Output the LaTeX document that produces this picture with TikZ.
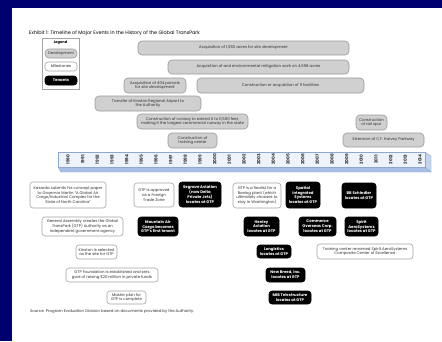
\documentclass[tikz,border=0pt]{standalone}
\usepackage{fontspec}
\setmainfont{Poppins}
\definecolor{navyb}{HTML}{000070}
\definecolor{devfill}{HTML}{D0D0D0}
\definecolor{devline}{HTML}{9A9A9A}
\definecolor{milline}{HTML}{A4A4A4}
\definecolor{conncol}{HTML}{A0A0A0}
\definecolor{barfront}{HTML}{EEF2FA}
\definecolor{barline}{HTML}{8FA7D0}
\definecolor{barbot}{HTML}{A8BEE6}
\definecolor{barside}{HTML}{C4D4EE}
\definecolor{txtgray}{HTML}{303030}
\newcommand\ftxt{\fontsize{3.85}{4.9}\selectfont}
\pgfdeclarelayer{bg}
\pgfsetlayers{bg,main}
\tikzset{
  sz/.style 2 args={minimum width=#1pt, minimum height=#2pt},
  devbox/.style={draw=devline, fill=devfill, rounded corners=4pt, line width=0.6pt,
    align=center, font=\ftxt, text=txtgray, inner sep=0.5pt},
  milbox/.style={draw=milline, fill=white, rounded corners=3pt, line width=0.6pt,
    align=center, font=\ftxt, text=txtgray, inner sep=0.5pt},
  tenbox/.style={draw=black, fill=black, rounded corners=3pt, line width=0.6pt,
    align=center, font=\ftxt\bfseries, text=white, inner sep=0.5pt},
  yearlbl/.style={rotate=90, font=\fontsize{4.3}{5}\selectfont\bfseries, text=txtgray, inner sep=0pt},
  conn/.style={draw=conncol, line width=0.5pt},
}
\begin{document}
\begin{tikzpicture}[x=1pt,y=-1pt]
\useasboundingbox (0,0) rectangle (442,341);
\fill[navyb] (0,0) rectangle (442,341);
\fill[white] (12,8) rectangle (442,341);

% title
\node[anchor=west, font=\fontsize{4.9}{6}\selectfont, inner sep=0pt] (title) at (29,33)
  {Exhibit 1: Timeline of Major Events in the History of the Global TransPark};

% legend
\node[draw=milline, fill=white, line width=0.6pt, sz={37}{51}] (legend) at (60.5,63.5) {};
\node[font=\fontsize{3.6}{4}\selectfont\bfseries, inner sep=0pt] (legtitle) at (60.5,42.5) {Legend};
\node[devbox, sz={32}{9}] (legdev) at (61,53.5) {Development};
\node[milbox, sz={32}{9}] (legmil) at (61,66.5) {Milestones};
\node[tenbox, sz={32}{9}] (legten) at (61,80.5) {Tenants};

% development bars
\node[devbox, sz={211}{14}] (d1) at (243.5,48) {Acquisition of 1,063 acres for site development};
\node[devbox, sz={181}{14}] (d2) at (258.5,67) {Acquisition of and environmental mitigation work on 4,658 acres};
\node[devbox, sz={62}{15}] (d3) at (155,85.5) {Acquisition of 404 parcels\\for site development};
\node[devbox, sz={167}{15}] (d4) at (280.5,85.5) {Construction or acquisition of 11 facilities};
\node[devbox, sz={106}{15}] (d5) at (148,103.5) {Transfer of Kinston Regional Airport to\\the Authority};
\node[devbox, sz={111}{15}] (d6) at (192.5,121.5) {Construction of runway to extend it to 11,500 feet,\\making it the longest commercial runway in the state};
\node[devbox, sz={49}{15}] (d7) at (192.5,140.5) {Construction of\\training center};
\node[devbox, sz={31}{15}] (d8) at (371.5,122.5) {Construction\\of rail spur};
\node[devbox, sz={81}{14}] (d9) at (383.5,140) {Extension of C.F. Harvey Parkway};

% timeline bar
\filldraw[fill=barbot, draw=barline, line width=0.4pt] (58,167) -- (425,167) -- (431,172) -- (61,172) -- cycle;
\filldraw[fill=barside, draw=barline, line width=0.4pt] (425,152) -- (431,156) -- (431,172) -- (425,167) -- cycle;
\filldraw[fill=barfront, draw=barline, line width=0.5pt] (58,152) rectangle (425,167);
\foreach \i in {0,...,24} {
  \pgfmathtruncatemacro\yr{1990+\i}
  \node[yearlbl] (yr\yr) at ({68+14.667*\i},159.5) {\yr};
}

% milestones and tenants below
\node[milbox, sz={76}{26}] (kas) at (68,195) {Kasarda submits his concept paper\\to Governor Martin ``A Global Air\\Cargo/Industrial Complex for the\\State of North Carolina''};
\node[milbox, sz={81}{19}] (ga) at (82.5,226.5) {General Assembly creates the Global\\TransPark (GTP) Authority as an\\independent government agency};
\node[milbox, sz={41}{14}] (kin) at (96.5,252) {Kinston is selected\\as the site for GTP};
\node[milbox, sz={92}{14}] (fdn) at (112,275) {GTP Foundation is established and sets\\goal of raising \$20 million in private funds};
\node[milbox, sz={39}{13}] (mp) at (126.5,297.5) {Master plan for\\GTP is complete};
\node[milbox, sz={40}{24}] (ftz) at (154,195) {GTP is approved\\as a Foreign\\Trade Zone};
\node[tenbox, sz={42}{25}] (seg) at (200,194.5) {Segrave Aviation\\(now Delta\\Private Jets)\\locates at GTP};
\node[tenbox, sz={40}{19}] (mac) at (158,226.5) {Mountain Air\\Cargo becomes\\GTP's first tenant};
\node[milbox, sz={48}{25}] (boe) at (257,195.5) {GTP is a finalist for a\\Boeing plant (which\\ultimately chooses to\\stay in Washington)};
\node[tenbox, sz={34}{26}] (spa) at (303,195) {Spatial\\Integrated\\Systems\\locates at GTP};
\node[tenbox, sz={34}{25}] (bbs) at (359,195.5) {BB Schindler\\locates at GTP};
\node[tenbox, sz={35}{19}] (hen) at (261.5,226.5) {Henley\\Aviation\\locates at GTP};
\node[tenbox, sz={37}{19}] (com) at (317.5,226.5) {Commerce\\Overseas Corp.\\locates at GTP};
\node[tenbox, sz={33}{19}] (spi) at (361.5,226.5) {Spirit\\AeroSystems\\locates at GTP};
\node[milbox, sz={96}{15}] (trn) at (365,251.5) {Training center renamed Spirit AeroSystems\\Composite Center of Excellence};
\node[tenbox, sz={34}{13}] (lon) at (274,251.5) {Longistics\\locates at GTP};
\node[tenbox, sz={39}{14}] (nbr) at (285.5,275) {New Breed, Inc.\\locates at GTP};
\node[tenbox, sz={42}{13}] (mib) at (290,297.5) {MiB Telestructure\\locates at GTP};

% source
\node[anchor=west, font=\fontsize{3.9}{5}\selectfont, inner sep=0pt, text=txtgray] (src) at (30,312)
  {Source: Program Evaluation Division based on documents provided by the Authority.};

% connector start points at the bottom of the bar
\foreach \nm/\xx in {a90/68, a91/83, a92/97, a93/112, a94/127, a96a/154, a96b/158, a99/200,
  a03a/257, a03b/261, a04/274, a05a/286, a05b/289, a06/303, a07/317, a10a/358, a10b/361, a10c/364}
  {\coordinate (\nm) at (\xx,172);}

\begin{pgfonlayer}{bg}
\draw[conn] (a90) -- (a90 |- kas.north);
\draw[conn] (a91) -- (a91 |- ga.north);
\draw[conn] (a92) -- (a92 |- kin.north);
\draw[conn] (a93) -- (a93 |- fdn.north);
\draw[conn] (a94) -- (a94 |- mp.north);
\draw[conn] (a96a) -- (a96a |- ftz.north);
\draw[conn] (a96b) -- (a96b |- mac.north);
\draw[conn] (a99) -- (a99 |- seg.north);
\draw[conn] (a03a) -- (a03a |- boe.north);
\draw[conn] (a03b) -- (a03b |- hen.north);
\draw[conn] (a04) -- (a04 |- lon.north);
\draw[conn] (a05a) -- (a05a |- nbr.north);
\draw[conn] (a05b) -- (a05b |- mib.north);
\draw[conn] (a06) -- (a06 |- spa.north);
\draw[conn] (a07) -- (a07 |- com.north);
\draw[conn] (a10a) -- (a10a |- bbs.north);
\draw[conn] (a10b) -- (a10b |- spi.north);
\draw[conn] (a10c) -- (a10c |- trn.north);
\end{pgfonlayer}
\end{tikzpicture}
\end{document}
